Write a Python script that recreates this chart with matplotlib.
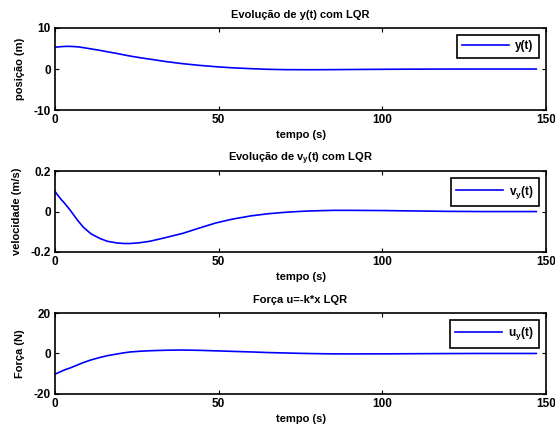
import matplotlib
matplotlib.use("Agg")
import matplotlib.pyplot as plt

plt.rcParams['font.family'] = ['Liberation Sans', 'DejaVu Sans']
plt.rcParams['font.weight'] = 'bold'
plt.rcParams['mathtext.fontset'] = 'custom'
plt.rcParams['mathtext.rm'] = 'Liberation Sans:bold'
plt.rcParams['mathtext.it'] = 'Liberation Sans:bold'
plt.rcParams['mathtext.bf'] = 'Liberation Sans:bold'

# time samples (s)
t = [0, 1, 2, 3, 4.6, 7, 8.7, 11, 13.7, 16, 18.8, 21, 23, 26, 29, 34, 39, 44, 49, 54,
     60, 65, 70, 75, 80, 85, 90, 100, 110, 120, 130, 140, 147]

pos = [5.3, 5.38, 5.45, 5.5, 5.52, 5.4, 5.2, 4.9, 4.55, 4.2, 3.8, 3.45, 3.15, 2.75, 2.4, 1.8,
       1.3, 0.9, 0.57, 0.3, 0.08, -0.07, -0.15, -0.17, -0.17, -0.15, -0.12, -0.07,
       -0.03, -0.01, 0.0, 0.0, 0.0]

vel = [0.10, 0.078, 0.058, 0.04, 0.008, -0.045, -0.078, -0.11, -0.133, -0.147, -0.155, -0.158,
       -0.158, -0.154, -0.147, -0.128, -0.108, -0.082, -0.057, -0.038, -0.021,
       -0.011, -0.004, 0.001, 0.004, 0.006, 0.006, 0.005, 0.003, 0.001, 0.0, 0.0, 0.0]

force = [-10.3, -9.5, -8.8, -8.1, -7.2, -5.6, -4.5, -3.2, -2.0, -1.1, -0.3, 0.3, 0.75, 1.1, 1.35,
         1.6, 1.7, 1.55, 1.3, 1.05, 0.75, 0.45, 0.25, 0.05, -0.1, -0.2, -0.22, -0.2,
         -0.12, -0.05, 0.0, 0.0, 0.0]

titles = ['Evolução de y(t) com LQR', 'Evolução de v$_y$(t) com LQR', 'Força u=-k*x LQR']
ylabels = ['posição (m)', 'velocidade (m/s)', 'Força (N)']
legends = ['y(t)', 'v$_y$(t)', 'u$_y$(t)']
yticks = [[-10, 0, 10], [-0.2, 0, 0.2], [-20, 0, 20]]
ylims = [(-10, 10), (-0.2, 0.2), (-20, 20)]
xticks = [0, 50, 100, 150]
series = [pos, vel, force]

fig = plt.figure(figsize=(5.55, 4.30), dpi=100)
boxes = [(0.099, 0.744, 0.885, 0.191), (0.099, 0.414, 0.885, 0.188), (0.099, 0.084, 0.885, 0.188)]
fs = 8.5
for i in range(3):
    ax = fig.add_axes(boxes[i])
    ax.plot(t, series[i], color='#0000ff', lw=1.2, label=legends[i])
    ax.set_xlim(0, 150)
    ax.set_ylim(*ylims[i])
    ax.set_xticks(xticks)
    ax.set_yticks(yticks[i])
    ax.set_yticklabels(['%g' % v for v in yticks[i]])
    ax.tick_params(direction='in', top=True, right=True, labelsize=fs, length=3, width=0.8, pad=3)
    for s in ax.spines.values():
        s.set_linewidth(1.2)
    ax.set_title(titles[i], fontsize=8, fontweight='bold', pad=7)
    ax.set_xlabel('tempo (s)', fontsize=8, fontweight='bold', labelpad=3)
    ax.set_ylabel(ylabels[i], fontsize=8, fontweight='bold', labelpad=6)
    leg = ax.legend(loc='upper right', fontsize=8.5, frameon=True, fancybox=False,
                    edgecolor='black', framealpha=1, handlelength=4.0, markerfirst=True,
                    borderpad=0.45, handletextpad=0.5, borderaxespad=0.6)
    leg.get_frame().set_linewidth(1.2)

fig.savefig('out.png', dpi=100)
